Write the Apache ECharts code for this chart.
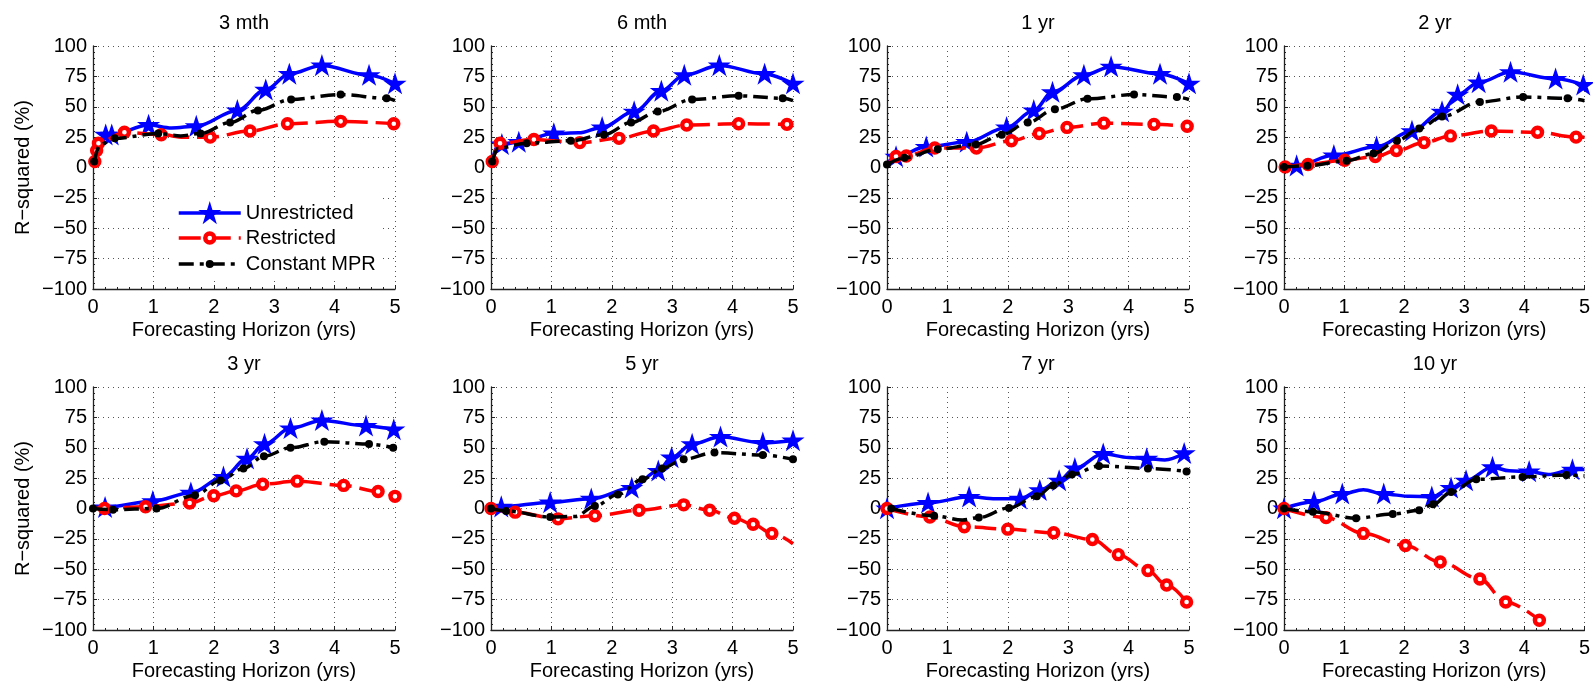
<!DOCTYPE html>
<html>
<head>
<meta charset="utf-8">
<title>R-squared by forecasting horizon</title>
<script src="https://cdn.jsdelivr.net/npm/echarts@6/dist/echarts.min.js"></script>
<style>
html, body { margin: 0; padding: 0; background: #fff; }
#main { width: 1593px; height: 685px; }
</style>
</head>
<body>
<div id="main"></div>
<script>
// panel titles (maturity of the yield being forecast)
var panelTitles = ['3 mth', '6 mth', '1 yr', '2 yr', '3 yr', '5 yr', '7 yr', '10 yr'];
var seriesNames = ['Unrestricted', 'Restricted', 'Constant MPR'];
var xMin = 0, xMax = 5, xStep = 1;
var yMin = -100, yMax = 100, yStep = 25;

// [horizon (yrs), R-squared (%)] ; a third entry 0 = curve point without marker
var u3m = [[0.02,5,0],[0.1,20,0],[0.21,27],[0.31,27],[0.92,35],[1.3,32.5,0],[1.71,34],[2.39,47],[2.86,64],[3.25,77],[3.79,84],[4.57,76],[5.0,69]];
var u6m = [[0.02,5,0],[0.1,17,0],[0.18,19],[0.46,21],[1.04,28],[1.45,28.5,0],[1.84,33],[2.37,46],[2.82,63],[3.2,76],[3.78,84],[4.53,77],[5.0,69]];
var u1y = [[0.0,3,0],[0.15,9],[0.65,17],[1.32,21],[1.98,33],[2.43,47],[2.74,62],[3.26,76],[3.71,83],[4.52,77],[5.0,69]];
var u2y = [[0.0,1,0],[0.21,1.5],[0.83,10],[1.54,17],[2.13,30],[2.63,46],[2.89,60],[3.24,70],[3.77,78.5],[4.52,73],[4.98,68]];
var u3y = [[0.0,1,0],[0.2,1],[0.99,6],[1.62,13],[2.16,26],[2.55,41],[2.84,53],[3.27,66],[3.79,72.5],[4.52,68],[4.98,65]];
var u5y = [[0.0,0,0],[0.17,1.5],[0.98,5],[1.66,8],[2.33,17],[2.77,31],[2.99,42],[3.33,53],[3.8,59],[4.5,54],[5.0,56]];
var u7y = [[0.0,0],[0.68,4.6],[1.36,9.6],[1.8,8,0],[2.2,8],[2.53,15],[2.85,23],[3.11,33],[3.58,45],[4.0,42,0],[4.3,41],[4.6,40,0],[4.92,45.5]];
var u10y = [[0.0,0],[0.5,5.5],[0.97,12],[1.32,15.5,0],[1.66,12],[2.1,10,0],[2.46,9.6],[2.78,17],[3.03,23],[3.47,34],[3.75,31,0],[4.08,30.5],[4.4,28,0],[4.8,32],[5.0,32,0]];

var r3m = [[0.03,5],[0.06,14],[0.09,20],[0.52,29],[1.13,27],[1.5,25,0],[1.94,25],[2.6,30],[3.22,36],[4.1,38],[4.98,36]];
var r6m = [[0.02,5],[0.15,20],[0.71,23],[1.47,20.5],[2.12,24],[2.69,30],[3.24,35],[4.1,36],[4.9,35.5]];
var r1y = [[0.02,3,0],[0.15,9],[0.32,9.5],[0.79,16],[1.48,16],[2.06,22],[2.52,28],[2.98,33],[3.59,36.5],[4.42,35.5],[4.97,34]];
var r2y = [[0.02,0.5],[0.4,2.5],[1.01,6],[1.52,9],[1.87,14],[2.33,20.5],[2.77,26],[3.45,30],[4.22,29],[4.86,25],[5.0,25,0]];
var r3y = [[0.0,0.5,0],[0.19,0],[0.87,1.5],[1.6,4.5],[2.0,10.5],[2.37,14.5],[2.81,20],[3.38,22.5],[4.15,19],[4.72,14],[5.0,10]];
var r5y = [[0.0,0],[0.4,-3],[1.11,-8.5],[1.72,-6],[2.45,-1.5],[3.19,3],[3.62,-1.5],[4.03,-8],[4.34,-13],[4.65,-20.5],[5.0,-29,0]];
var r7y = [[0.0,0],[0.71,-7],[1.28,-15],[2.0,-17],[2.76,-20],[3.4,-25.5],[3.83,-38],[4.32,-51],[4.63,-63],[4.96,-77]];
var r10y = [[0.0,0],[0.7,-7.5],[1.32,-20.5],[2.02,-30.5],[2.6,-44],[3.26,-58],[3.69,-77],[4.25,-92]];

var c3m = [[0.02,5],[0.12,19,0],[0.36,24],[1.08,28],[1.45,26,0],[1.78,28],[2.27,37],[2.73,47],[3.28,56],[4.1,60],[4.86,57],[5.0,55,0]];
var c6m = [[0.02,5],[0.12,16,0],[0.59,20],[1.32,22],[1.87,27],[2.32,37],[2.76,46],[3.33,56],[4.1,59],[4.83,57],[5.0,55,0]];
var c1y = [[0.0,2.5],[0.29,8],[0.84,15],[1.47,19],[1.9,27],[2.33,37],[2.78,48],[3.32,56.5],[4.09,60],[4.8,58],[5.0,56,0]];
var c2y = [[0.0,0.5],[0.39,1.5],[1.04,5.5],[1.49,11.5],[1.88,22],[2.25,32],[2.63,42],[3.26,54],[3.98,58],[4.72,57],[5.0,55,0]];
var c3y = [[0.0,0],[0.33,-1],[1.05,0],[1.69,11],[2.11,23],[2.49,33],[2.83,43],[3.27,50],[3.83,55],[4.57,53],[4.97,50]];
var c5y = [[0.0,0],[0.25,-2],[0.98,-7],[1.4,-6.5,0],[1.72,2],[2.1,11.5],[2.51,24],[2.83,33],[3.19,40.5],[3.7,46],[4.5,44],[5.0,40.5]];
var c7y = [[0.07,0],[0.78,-6],[1.25,-9.5,0],[1.52,-7.5],[2.02,0.5],[2.48,10],[2.75,19],[3.06,28],[3.51,35],[4.32,33],[4.96,30.5]];
var c10y = [[0.0,0],[0.48,-2.7],[1.2,-8],[1.81,-4.6],[2.25,-1.5],[2.48,3.5],[2.78,13.5],[3.2,24],[3.97,26],[4.7,27.5],[5.0,27,0]];

var unrestricted = [u3m, u6m, u1y, u2y, u3y, u5y, u7y, u10y];
var restricted = [r3m, r6m, r1y, r2y, r3y, r5y, r7y, r10y];
var constMPR = [c3m, c6m, c1y, c2y, c3y, c5y, c7y, c10y];

// layout
var FONT = 'Liberation Sans, Arial, Helvetica, sans-serif';
var gridLefts = [93, 491, 887, 1284];
var gridTops = [46, 387];
var gridW = 302, gridH = 243;
var STAR = 'path://M0,-10 L2.245,-3.09 L9.511,-3.09 L3.633,1.18 L5.878,8.09 L0,3.82 L-5.878,8.09 L-3.633,1.18 L-9.511,-3.09 L-2.245,-3.09 Z';

// line / marker styles: blue stars, red open circles, black dots
var styles = [
    { symbol: STAR, size: 17, item: { color: '#0000ff', borderColor: '#0000ff', borderWidth: 2 },
      line: { color: '#0000ff', width: 3.5, type: 'solid' } },
    { symbol: 'circle', size: 9, item: { color: '#ffffff', borderColor: '#ff0000', borderWidth: 4.4 },
      line: { color: '#ff0000', width: 3.5, type: [22, 8] } },
    { symbol: 'circle', size: 8, item: { color: '#000000', borderWidth: 0 },
      line: { color: '#000000', width: 3.5, type: [15, 6, 4, 6] } }
];

function pts(arr) {
    return arr.map(function (p) {
        return p.length > 2 ? { value: [p[0], p[1]], symbol: 'none' } : [p[0], p[1]];
    });
}
function minus(v) { return String(v).replace('-', '\u2212'); }

var chart = echarts.init(document.getElementById('main'));
var grid = [], xAxis = [], yAxis = [], series = [], legends = [];
var graphic = [{
    // white legend box, hides grid dots behind the legend
    type: 'rect', z: 3, shape: { x: 170, y: 197, width: 213, height: 80 },
    style: { fill: '#ffffff' }
}];

for (var i = 0; i < 8; i++) {
    var col = i % 4, row = Math.floor(i / 4);
    grid.push({ left: gridLefts[col], top: gridTops[row], width: gridW, height: gridH });
    var tickStyle = { color: '#222', width: 1 };
    var gridLine = { show: true, lineStyle: { color: '#555', width: 1, type: [1, 4] } };
    xAxis.push({
        gridIndex: i, type: 'value', min: xMin, max: xMax, interval: xStep,
        name: 'Forecasting Horizon (yrs)', nameLocation: 'middle', nameGap: 31,
        nameTextStyle: { fontSize: 20, fontFamily: FONT, color: '#000' },
        axisLine: { show: true, onZero: false, lineStyle: { color: '#222', width: 1.3 } },
        axisTick: { show: true, inside: true, length: 4, lineStyle: tickStyle },
        minorTick: { show: true, splitNumber: 5, length: 2, lineStyle: tickStyle },
        axisLabel: { fontSize: 20, fontFamily: FONT, color: '#000', margin: 8 },
        splitLine: gridLine
    });
    yAxis.push({
        gridIndex: i, type: 'value', min: yMin, max: yMax, interval: yStep,
        name: col === 0 ? 'R\u2212squared (%)' : '', nameLocation: 'middle', nameGap: 60, nameRotate: 90,
        nameTextStyle: { fontSize: 20, fontFamily: FONT, color: '#000' },
        axisLine: { show: true, onZero: false, lineStyle: { color: '#222', width: 1.3 } },
        axisTick: { show: true, inside: true, length: 4, lineStyle: tickStyle },
        minorTick: { show: true, splitNumber: 5, length: 2, lineStyle: tickStyle },
        axisLabel: { fontSize: 20, fontFamily: FONT, color: '#000', margin: 6, formatter: minus },
        splitLine: gridLine
    });
    graphic.push({
        type: 'text', x: gridLefts[col] + gridW / 2, y: gridTops[row] - 23,
        style: { text: panelTitles[i], font: '20px ' + FONT, fill: '#000', align: 'center', verticalAlign: 'middle' }
    });

    var groups = [unrestricted[i], restricted[i], constMPR[i]];
    for (var s = 0; s < 3; s++) {
        series.push({
            name: seriesNames[s], type: 'line', xAxisIndex: i, yAxisIndex: i,
            data: pts(groups[s]), smooth: 0.35, smoothMonotone: 'x',
            symbol: styles[s].symbol, symbolSize: styles[s].size, symbolKeepAspect: true,
            itemStyle: styles[s].item, lineStyle: styles[s].line, z: 2 + s
        });
    }
}

// one legend per row so each keeps its own marker size
var legendRowY = [213, 238, 264];
for (var k = 0; k < 3; k++) {
    legends.push({
        data: [seriesNames[k]], orient: 'vertical', left: 177, top: legendRowY[k] - 10,
        itemWidth: 62, itemHeight: styles[k].size / 0.8, padding: 0,
        selectedMode: false, z: 5,
        itemStyle: { borderWidth: styles[k].item.borderWidth },
        lineStyle: { width: 3.5 },
        textStyle: { fontSize: 20, fontFamily: FONT, color: '#000', lineHeight: 20 }
    });
}

var option = {
    backgroundColor: '#ffffff',
    animation: false,
    textStyle: { fontFamily: FONT },
    grid: grid,
    xAxis: xAxis,
    yAxis: yAxis,
    graphic: graphic,
    legend: legends,
    series: series
};
chart.setOption(option);
</script>
</body>
</html>
